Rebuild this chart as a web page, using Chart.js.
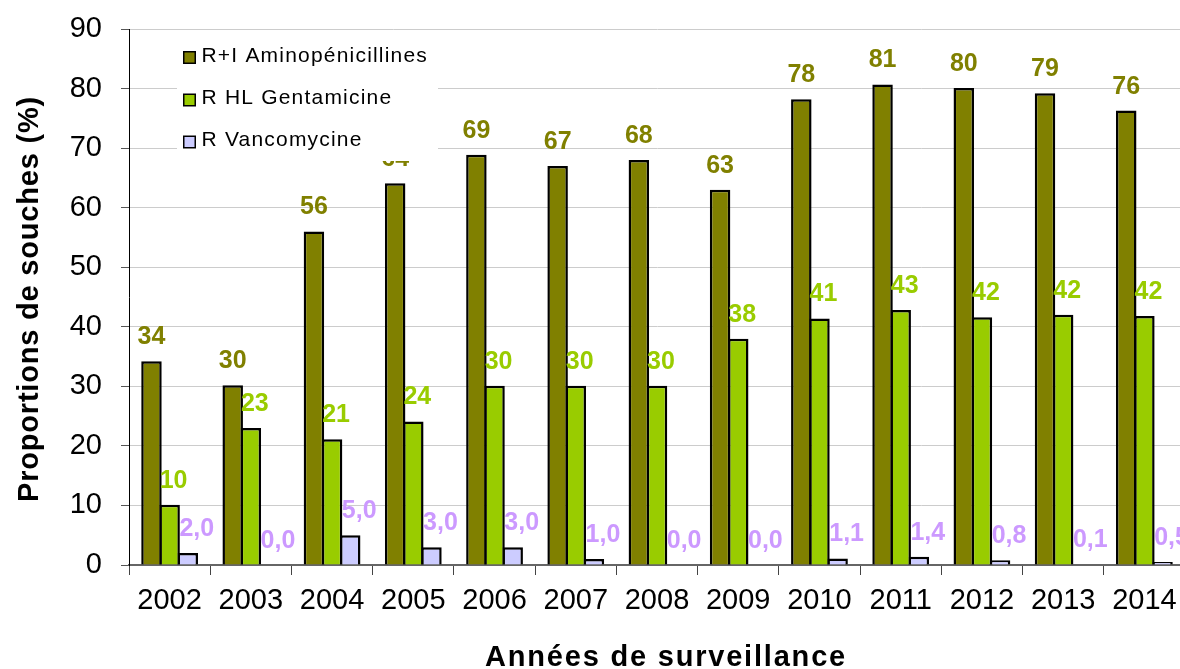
<!DOCTYPE html>
<html>
<head>
<meta charset="utf-8">
<script src="https://cdn.jsdelivr.net/npm/chart.js@4"></script>
<style>
  html, body { margin: 0; padding: 0; background: #fff; overflow: hidden; width: 1180px; height: 669px; }
  #wrap { position: absolute; left: 0; top: 0; width: 1190px; height: 669px; }
</style>
</head>
<body>
<div id="wrap"><canvas id="c" width="1190" height="669"></canvas></div>
<script>
const years = ['2002','2003','2004','2005','2006','2007','2008','2009','2010','2011','2012','2013','2014'];
const aminopenicillines = [34.2, 30.2, 56.0, 64.1, 68.9, 67.0, 68.0, 63.0, 78.2, 80.7, 80.1, 79.2, 76.3];
const gentamicine = [10.1, 23.0, 21.1, 24.1, 30.1, 30.1, 30.1, 38.0, 41.4, 42.8, 41.6, 42.0, 41.8];
const vancomycine = [2.0, 0.0, 5.0, 3.0, 3.0, 1.0, 0.0, 0.0, 1.1, 1.4, 0.8, 0.1, 0.5];
const seriesNames = ['R+I Aminopénicillines', 'R HL Gentamicine', 'R Vancomycine'];
const yTicks = [0, 10, 20, 30, 40, 50, 60, 70, 80, 90];
const xTitle = 'Années de surveillance';
const yTitle = 'Proportions de souches (%)';

const FONT = "'Liberation Sans', Arial, sans-serif";

const labelPlugin = {
  id: 'valueLabels',
  afterDatasetsDraw(chart) {
    const ctx = chart.ctx;
    ctx.save();
    ctx.font = 'bold 25px ' + FONT;
    ctx.textAlign = 'center';
    ctx.textBaseline = 'alphabetic';
    chart.data.datasets.forEach((ds, di) => {
      const meta = chart.getDatasetMeta(di);
      meta.data.forEach((el, i) => {
        const v = ds.data[i];
        const txt = ds.labelDecimals ? v.toFixed(ds.labelDecimals).replace('.', ',') : Math.round(v).toString();
        ctx.fillStyle = ds.labelColor;
        ctx.fillText(txt, el.x + ds.labelShift, el.y - 17);
      });
    });
    ctx.restore();
  }
};

const overlayPlugin = {
  id: 'overlayLegendTitles',
  afterDraw(chart) {
    const ctx = chart.ctx;
    ctx.save();
    // legend box
    ctx.fillStyle = '#ffffff';
    ctx.fillRect(177, 33, 261, 128);
    ctx.font = '21px ' + FONT;
    ctx.textAlign = 'left';
    ctx.textBaseline = 'middle';
    if ('letterSpacing' in ctx) ctx.letterSpacing = '1.2px';
    const rows = [56, 98.5, 140.5];
    chart.data.datasets.forEach((ds, i) => {
      const cy = rows[i];
      ctx.fillStyle = '#000';
      ctx.fillRect(183, cy - 5, 13, 13);
      ctx.fillStyle = ds.backgroundColor;
      ctx.fillRect(184.5, cy - 3.5, 10, 10);
      ctx.fillStyle = '#000';
      ctx.fillText(ds.label, 201.5, cy);
    });
    // axis titles
    ctx.fillStyle = '#000';
    ctx.textAlign = 'center';
    ctx.textBaseline = 'alphabetic';
    ctx.font = 'bold 29px ' + FONT;
    if ('letterSpacing' in ctx) ctx.letterSpacing = '1.8px';
    ctx.fillText(xTitle, 666, 666);
    ctx.save();
    ctx.translate(38, 299);
    ctx.rotate(-Math.PI / 2);
    if ('letterSpacing' in ctx) ctx.letterSpacing = '0.8px';
    ctx.fillText(yTitle, 0, 0);
    ctx.restore();
    ctx.restore();
  }
};

new Chart(document.getElementById('c'), {
  type: 'bar',
  data: {
    labels: years,
    datasets: [
      { label: seriesNames[0], data: aminopenicillines, backgroundColor: '#808000', borderColor: '#000', borderWidth: 2.5,
        labelColor: '#808000', labelShift: 0, labelDecimals: 0 },
      { label: seriesNames[1], data: gentamicine, backgroundColor: '#99CC00', borderColor: '#000', borderWidth: 2.5,
        labelColor: '#99CC00', labelShift: 4, labelDecimals: 0 },
      { label: seriesNames[2], data: vancomycine, backgroundColor: '#CCCCFF', borderColor: '#000', borderWidth: 2.5,
        labelColor: '#CC99FF', labelShift: 9, labelDecimals: 1 }
    ]
  },
  options: {
    responsive: false,
    animation: false,
    devicePixelRatio: 1,
    layout: { padding: { top: 29, right: 5, left: 0, bottom: 0 } },
    datasets: { bar: { categoryPercentage: 0.67, barPercentage: 1.13, borderSkipped: 'start' } },
    plugins: { legend: { display: false }, tooltip: { enabled: false } },
    scales: {
      x: {
        grid: { display: true, drawOnChartArea: false, tickLength: 10, color: '#444', offset: true },
        border: { display: true, color: '#666', width: 2 },
        ticks: { font: { family: FONT, size: 29 }, color: '#000', padding: 9, maxRotation: 0, autoSkip: false },
        title: { display: false },
        afterFit(scale) { scale.height = 104; }
      },
      y: {
        min: 0, max: 90,
        afterBuildTicks(scale) { scale.ticks = yTicks.map(v => ({ value: v })); },
        grid: { color: '#cccccc', lineWidth: 1, tickLength: 8, tickColor: '#555' },
        border: { display: true, color: '#000', width: 1 },
        ticks: { font: { family: FONT, size: 29, lineHeight: 0.6 }, color: '#000', padding: 19 },
        title: { display: false },
        afterFit(scale) { scale.width = 129; }
      }
    }
  },
  plugins: [labelPlugin, overlayPlugin]
});
</script>
</body>
</html>
